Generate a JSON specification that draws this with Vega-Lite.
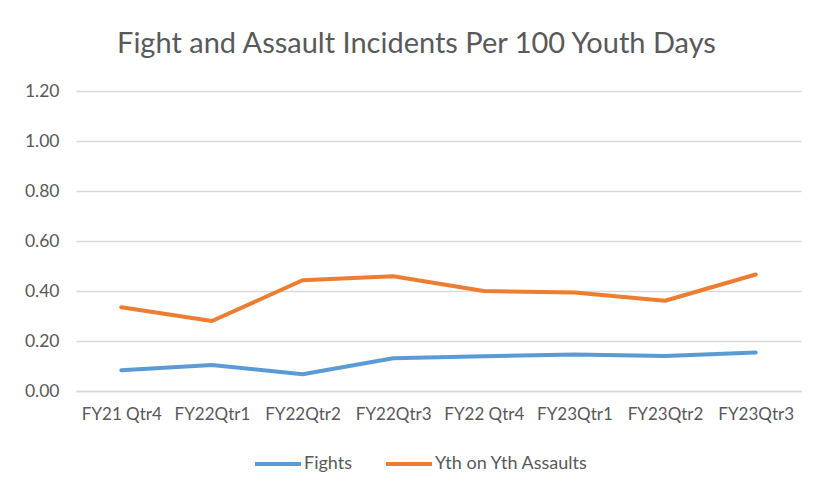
{
  "$schema": "https://vega.github.io/schema/vega-lite/v6.json",
  "autosize": "none",
  "width": 725,
  "height": 300,
  "padding": {"left": 76, "top": 91, "right": 16, "bottom": 103},
  "background": "white",
  "title": {
    "text": "Fight and Assault Incidents Per 100 Youth Days",
    "font": "Lato",
    "fontSize": 29,
    "fontWeight": "normal",
    "color": "#595959",
    "anchor": "middle",
    "dx": -22,
    "offset": 23
  },
  "data": {
    "values": [
      {"quarter": "FY21 Qtr4", "series": "Fights", "value": 0.083},
      {"quarter": "FY22Qtr1", "series": "Fights", "value": 0.104},
      {"quarter": "FY22Qtr2", "series": "Fights", "value": 0.067},
      {"quarter": "FY22Qtr3", "series": "Fights", "value": 0.131},
      {"quarter": "FY22 Qtr4", "series": "Fights", "value": 0.139},
      {"quarter": "FY23Qtr1", "series": "Fights", "value": 0.146},
      {"quarter": "FY23Qtr2", "series": "Fights", "value": 0.140},
      {"quarter": "FY23Qtr3", "series": "Fights", "value": 0.154},
      {"quarter": "FY21 Qtr4", "series": "Yth on Yth Assaults", "value": 0.335},
      {"quarter": "FY22Qtr1", "series": "Yth on Yth Assaults", "value": 0.280},
      {"quarter": "FY22Qtr2", "series": "Yth on Yth Assaults", "value": 0.443},
      {"quarter": "FY22Qtr3", "series": "Yth on Yth Assaults", "value": 0.459},
      {"quarter": "FY22 Qtr4", "series": "Yth on Yth Assaults", "value": 0.400},
      {"quarter": "FY23Qtr1", "series": "Yth on Yth Assaults", "value": 0.394},
      {"quarter": "FY23Qtr2", "series": "Yth on Yth Assaults", "value": 0.361},
      {"quarter": "FY23Qtr3", "series": "Yth on Yth Assaults", "value": 0.466}
    ]
  },
  "mark": {"type": "line", "strokeWidth": 4, "strokeCap": "round", "strokeJoin": "round"},
  "encoding": {
    "x": {
      "field": "quarter",
      "type": "nominal",
      "sort": null,
      "scale": {"type": "point", "padding": 0.5},
      "axis": {
        "title": null,
        "labelAngle": 0,
        "labelFont": "Lato",
        "labelFontSize": 17,
        "labelColor": "#595959",
        "labelPadding": 15,
        "ticks": false,
        "domainColor": "#D9D9D9",
        "domainWidth": 1.5,
        "grid": false
      }
    },
    "y": {
      "field": "value",
      "type": "quantitative",
      "scale": {"domain": [0, 1.2], "nice": false},
      "axis": {
        "title": null,
        "values": [0, 0.2, 0.4, 0.6, 0.8, 1.0, 1.2],
        "format": ".2f",
        "labelFont": "Lato",
        "labelFontSize": 17.5,
        "labelColor": "#595959",
        "labelPadding": 17,
        "ticks": false,
        "domain": false,
        "grid": true,
        "gridColor": "#D9D9D9",
        "gridWidth": 1.5
      }
    },
    "color": {
      "field": "series",
      "type": "nominal",
      "scale": {"domain": ["Fights", "Yth on Yth Assaults"], "range": ["#5B9BD5", "#ED7D31"]},
      "legend": {
        "title": null,
        "orient": "none",
        "direction": "horizontal",
        "legendX": 177,
        "legendY": 348,
        "symbolType": "stroke",
        "symbolSize": 2116,
        "symbolStrokeWidth": 4,
        "labelFont": "Lato",
        "labelFontSize": 18,
        "labelColor": "#595959",
        "labelOffset": 1,
        "columnPadding": 26
      }
    }
  },
  "config": {"view": {"stroke": null}}
}
